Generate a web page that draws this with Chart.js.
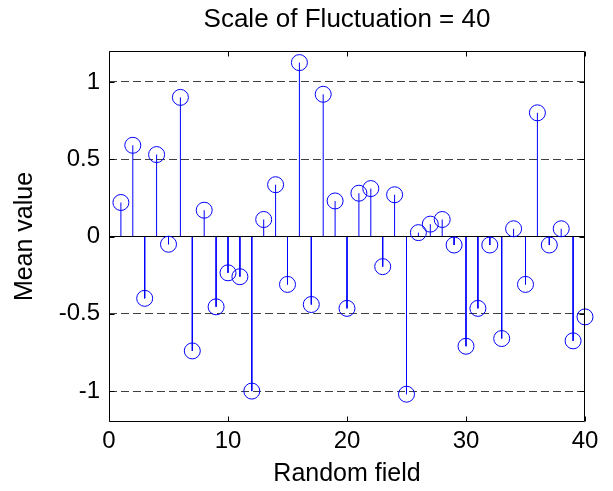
<!DOCTYPE html>
<html>
<head>
<meta charset="utf-8">
<title>Scale of Fluctuation = 40</title>
<script src="https://cdn.jsdelivr.net/npm/chart.js@4.4.1/dist/chart.umd.min.js"></script>
<style>
    html, body { margin: 0; padding: 0; background: #fff; }
</style>
</head>
<body>
<canvas id="myChart" width="613" height="491"></canvas>
<script>
// random field index and its mean value
var fields = [1, 2, 3, 4, 5, 6, 7, 8, 9, 10,
              11, 12, 13, 14, 15, 16, 17, 18, 19, 20,
              21, 22, 23, 24, 25, 26, 27, 28, 29, 30,
              31, 32, 33, 34, 35, 36, 37, 38, 39, 40];
var means = [0.22, 0.59, -0.40, 0.53, -0.05, 0.90, -0.74, 0.17, -0.455, -0.235,
             -0.26, -1.00, 0.11, 0.335, -0.31, 1.125, -0.44, 0.92, 0.23, -0.465,
             0.28, 0.31, -0.195, 0.27, -1.02, 0.025, 0.08, 0.11, -0.055, -0.71,
             -0.465, -0.055, -0.66, 0.05, -0.31, 0.80, -0.055, 0.05, -0.675, -0.52];
var xTicks = [0, 10, 20, 30, 40];
var yTicks = [-1, -0.5, 0, 0.5, 1];
var xRange = [0, 40];
var yRange = [-1.2, 1.2];

var FONT = "'Liberation Sans', Arial, Helvetica, sans-serif";

var markers = [];
var stems = [];
for (var i = 0; i < fields.length; i++) {
    markers.push({x: fields[i], y: means[i]});
    stems.push({x: fields[i], y: 0});
    stems.push({x: fields[i], y: means[i]});
    stems.push({x: fields[i], y: null});
}
var baseline = [{x: xRange[0], y: 0}, {x: xRange[1], y: 0}];

// matlab style box with ticks pointing inwards
var boxPlugin = {
    id: 'box',
    afterDatasetsDraw: function (chart) {
        var ctx = chart.ctx;
        var a = chart.chartArea;
        var xs = chart.scales.x, ys = chart.scales.y;
        var L = Math.round(a.left) + 0.5, R = Math.round(a.right) - 0.5;
        var T = Math.round(a.top) + 0.5, B = Math.round(a.bottom) - 0.5;
        var len = 5;
        ctx.save();
        ctx.strokeStyle = '#000';
        ctx.lineWidth = 1;
        ctx.setLineDash([]);
        ctx.beginPath();
        ctx.rect(L, T, R - L, B - T);
        xTicks.forEach(function (v) {
            var px = Math.round(xs.getPixelForValue(v)) + 0.5;
            ctx.moveTo(px, B); ctx.lineTo(px, B - len);
            ctx.moveTo(px, T); ctx.lineTo(px, T + len);
        });
        yTicks.forEach(function (v) {
            var py = Math.round(ys.getPixelForValue(v)) + 0.5;
            ctx.moveTo(L, py); ctx.lineTo(L + len, py);
            ctx.moveTo(R, py); ctx.lineTo(R - len, py);
        });
        ctx.stroke();
        ctx.restore();
    }
};

var ctx = document.getElementById('myChart');
var myChart = new Chart(ctx, {
    type: 'scatter',
    data: {
        datasets: [{
            label: 'markers',
            data: markers,
            clip: false,
            pointStyle: 'circle',
            pointRadius: 8,
            pointHoverRadius: 8,
            pointBorderWidth: 1,
            borderColor: '#0000ff',
            backgroundColor: 'rgba(0,0,0,0)'
        }, {
            label: 'baseline',
            data: baseline,
            showLine: true,
            borderColor: '#000',
            borderWidth: 1,
            pointRadius: 0
        }, {
            label: 'stems',
            data: stems,
            showLine: true,
            spanGaps: false,
            borderColor: '#0000ff',
            borderWidth: 1,
            pointRadius: 0
        }]
    },
    options: {
        responsive: false,
        animation: false,
        events: [],
        layout: {padding: {left: 0, right: 28, top: 0, bottom: 0}},
        plugins: {
            legend: {display: false},
            tooltip: {enabled: false},
            title: {
                display: true,
                fullSize: false,
                text: 'Scale of Fluctuation = 40',
                color: '#000',
                font: {family: FONT, size: 26, weight: 'normal'},
                padding: {top: 4, bottom: 15.8}
            }
        },
        scales: {
            x: {
                type: 'linear',
                min: xRange[0],
                max: xRange[1],
                afterBuildTicks: function (s) { s.ticks = xTicks.map(function (v) { return {value: v}; }); },
                afterFit: function (s) { s.height = 69; },
                grid: {display: false, drawTicks: false},
                border: {display: false},
                ticks: {color: '#000', padding: 5, font: {family: FONT, size: 24}, maxRotation: 0},
                title: {
                    display: true,
                    text: 'Random field',
                    color: '#000',
                    font: {family: FONT, size: 25},
                    padding: {top: 0, bottom: 2}
                }
            },
            y: {
                type: 'linear',
                min: yRange[0],
                max: yRange[1],
                afterBuildTicks: function (s) { s.ticks = yTicks.map(function (v) { return {value: v}; }); },
                afterFit: function (s) { s.width = 109; },
                grid: {color: 'rgba(0,0,0,0.75)', lineWidth: 1, drawTicks: false},
                border: {display: false, dash: [8, 4]},
                ticks: {
                    color: '#000',
                    padding: 9,
                    font: {family: FONT, size: 24},
                    callback: function (v) { return String(v); }
                },
                title: {
                    display: true,
                    text: 'Mean value',
                    color: '#000',
                    font: {family: FONT, size: 25},
                    padding: {top: 10, bottom: 0}
                }
            }
        }
    },
    plugins: [boxPlugin]
});
</script>
</body>
</html>
